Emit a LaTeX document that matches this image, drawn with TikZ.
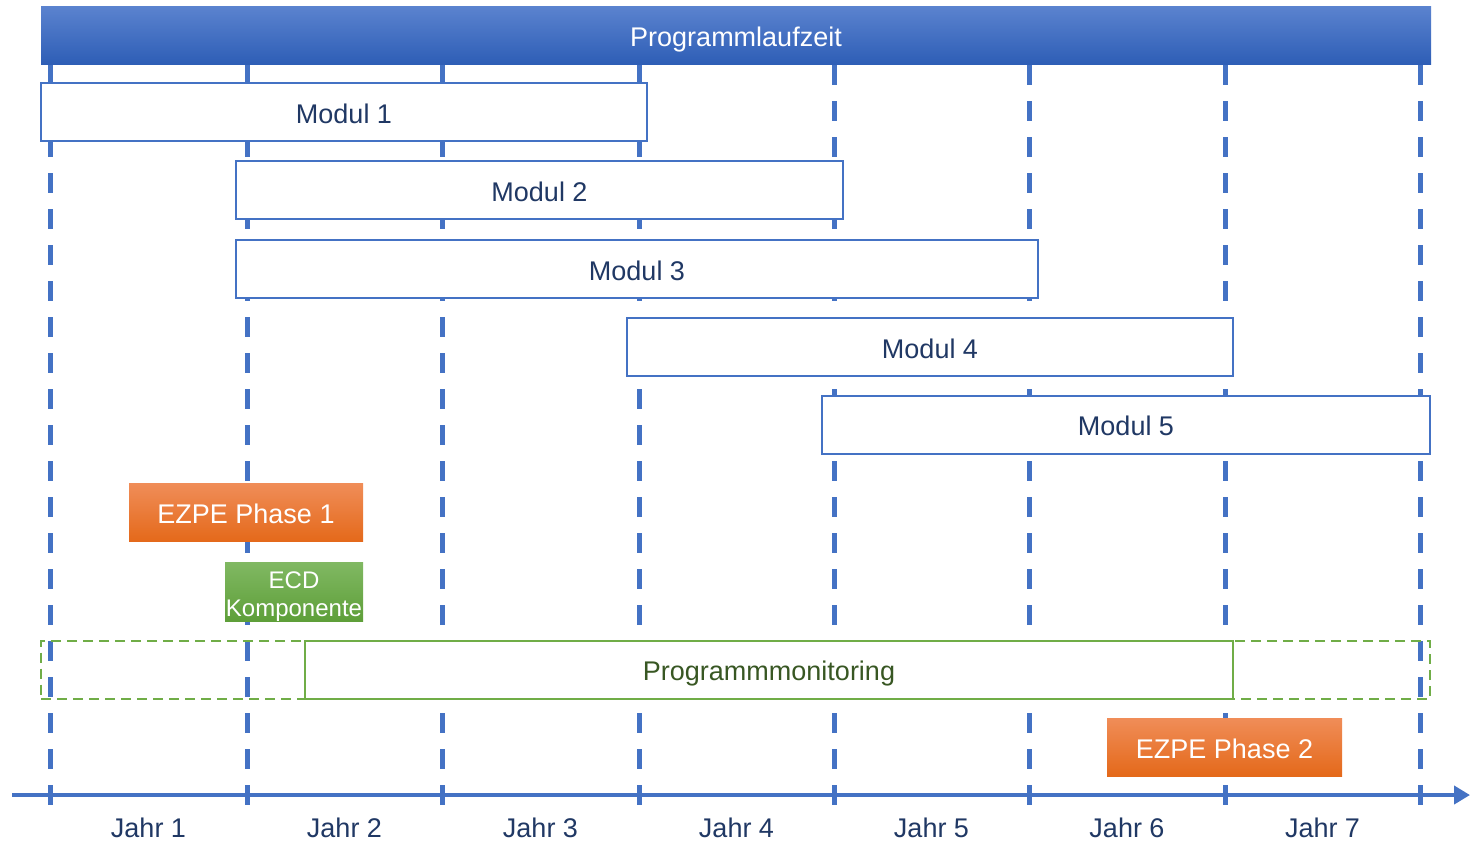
\documentclass[tikz,border=0pt]{standalone}
\usepackage{fontspec}
\setmainfont{Liberation Sans}
\usetikzlibrary{arrows.meta}

\definecolor{linienblau}{HTML}{4472C4}
\definecolor{textblau}{HTML}{203864}
\definecolor{kopfoben}{HTML}{5B83CF}
\definecolor{kopfunten}{HTML}{2E5EB6}
\definecolor{orangeoben}{HTML}{F08D58}
\definecolor{orangeunten}{HTML}{E4691A}
\definecolor{gruenoben}{HTML}{80B862}
\definecolor{gruenunten}{HTML}{5E9F39}
\definecolor{gruen}{HTML}{70AD47}
\definecolor{gruentext}{HTML}{385723}

\tikzset{
    schrift/.style={font=\fontsize{13.5}{16}\selectfont},
    kasten/.style={inner sep=0pt, minimum height=29pt, schrift},
    zeile/.style={text height=12pt, text depth=1pt},
    modul/.style={kasten, zeile, draw=linienblau, line width=1pt, fill=white, text=textblau},
    kopf/.style={kasten, zeile, top color=kopfoben, bottom color=kopfunten, text=white},
    ezpe/.style={kasten, zeile, top color=orangeoben, bottom color=orangeunten, text=white},
    ecd/.style={kasten, top color=gruenoben, bottom color=gruenunten, text=white,
        align=center, font=\fontsize{12}{14}\selectfont},
    monitor/.style={kasten, zeile, draw=gruen, line width=1pt, fill=white, text=gruentext},
    rahmen/.style={kasten, draw=gruen, line width=1pt, dash pattern=on 5pt off 3pt},
    raster/.style={linienblau, line width=2.5pt, dash pattern=on 10pt off 8pt},
    achse/.style={linienblau, line width=2pt, -{Triangle[length=8pt, width=9pt]}},
    jahr/.style={schrift, text=textblau}
}

\begin{document}
\begin{tikzpicture}[x=0.5pt, y=-0.5pt]
    \useasboundingbox (0,0) rectangle (1476,843);

    % Raster
    \foreach \x [count=\i from 0] in {50,247,442,639,834,1029,1225,1420} {
        \coordinate (t\i) at (\x,795);
        \draw[raster] (\x,65) -- (\x,808);
    }

    % Achse
    \coordinate (achse-a) at (12,795);
    \coordinate (achse-b) at (1470,795);
    \draw[achse] (achse-a) -- (achse-b);
    \foreach \x [count=\i] in {148.5,344.5,540.5,736.5,931.5,1127,1322.5}
        \node[jahr] (jahr\i) at (\x,828) {Jahr \i};

    % Kopf
    \node[kopf, minimum width=695pt] (laufzeit) at (736,35) {Programmlaufzeit};

    % Module
    \node[modul, minimum width=303pt] (modul1) at (344,112) {Modul 1};
    \node[modul, minimum width=303.5pt] (modul2) at (539.5,190) {Modul 2};
    \node[modul, minimum width=401pt] (modul3) at (637,269) {Modul 3};
    \node[modul, minimum width=303pt] (modul4) at (930,347) {Modul 4};
    \node[modul, minimum width=304pt] (modul5) at (1126,424.5) {Modul 5};

    % EZPE und ECD
    \node[ezpe, minimum width=117pt] (ezpe1) at (246,512.5) {EZPE Phase 1};
    \node[ecd, minimum width=69pt] (ecd) at (294,592) {\rule{0pt}{12.6pt}ECD\\Komponente};
    \node[ezpe, minimum width=117.5pt] (ezpe2) at (1224.5,747) {EZPE Phase 2};

    % Monitoring
    \node[rahmen, minimum width=694.5pt] (monitor-aussen) at (735.5,669.5) {};
    \node[monitor, minimum width=464pt] (monitor) at (769,669.5) {Programmmonitoring};
\end{tikzpicture}
\end{document}
